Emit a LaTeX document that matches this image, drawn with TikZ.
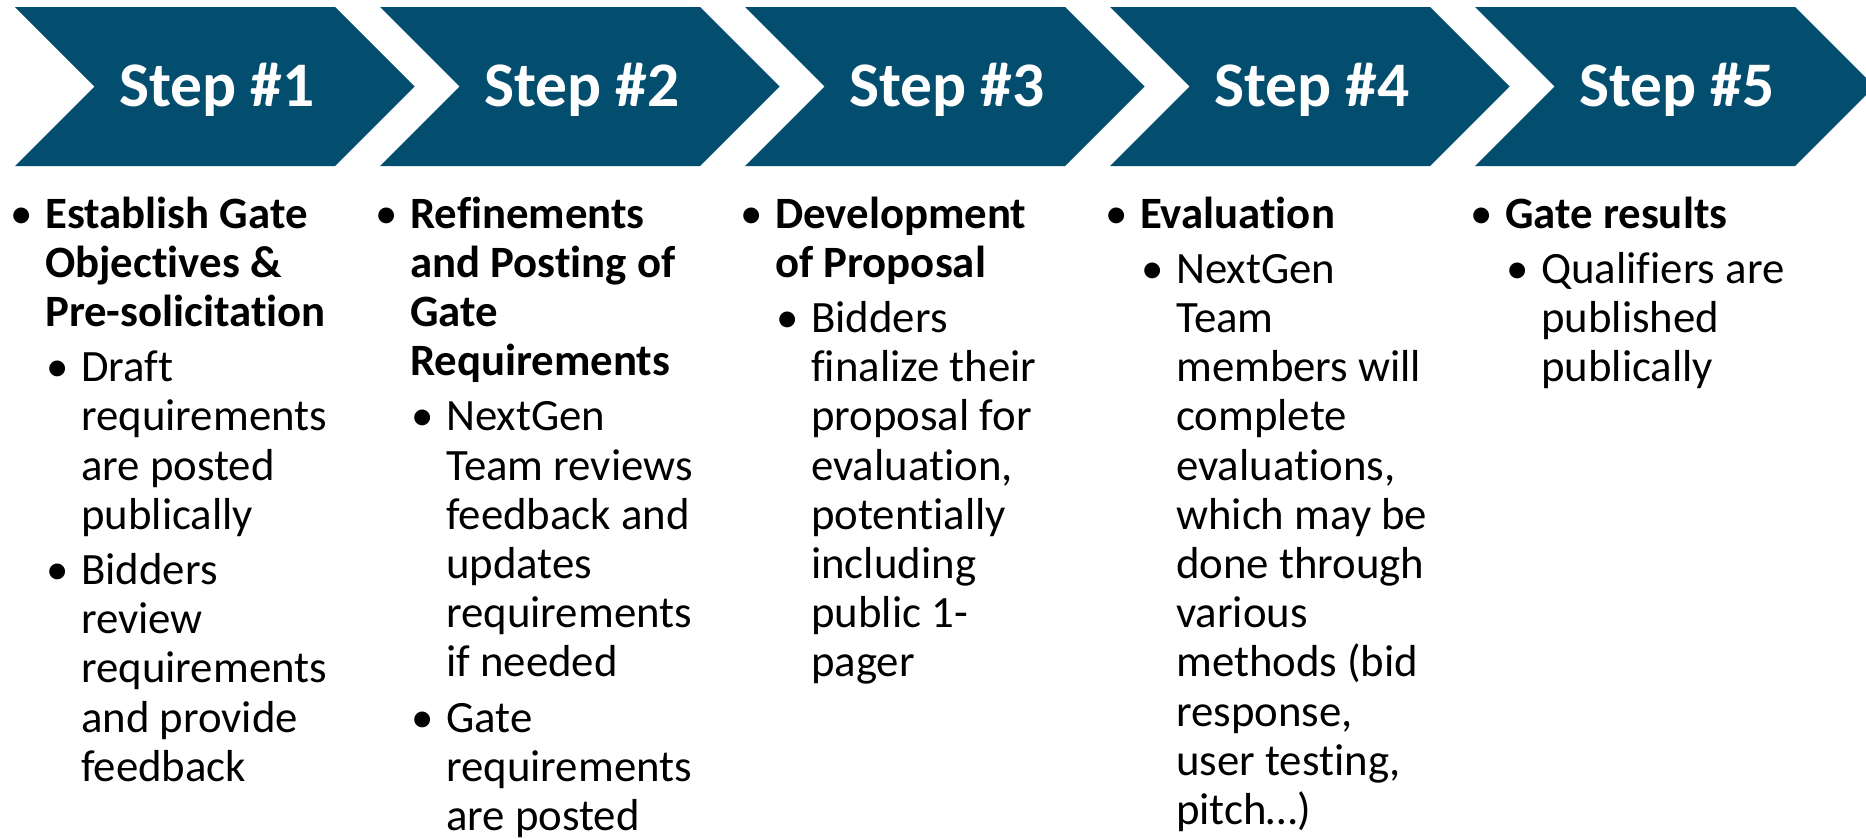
\documentclass[tikz,border=0pt]{standalone}
\usepackage{fontspec}
\setmainfont{Carlito}[RawFeature={-liga;-clig;-calt;-dlig}]
\usepackage{tikz}

\definecolor{stepblue}{RGB}{3,78,111}

\tikzset{
  head/.style={anchor=base, inner sep=0, text=white,
    font=\fontsize{63.5}{70}\selectfont\bfseries},
  lvlone/.style={anchor=base west, inner sep=0,
    font=\fontsize{44.8}{49.2}\selectfont\bfseries},
  lvltwo/.style={anchor=base west, inner sep=0,
    font=\fontsize{44.8}{49.2}\selectfont},
  bul/.style={anchor=base, inner sep=0, font=\fontsize{44.8}{49.2}\selectfont}
}

% bullet + paragraph: name, x, first baseline, style, text
\newcommand{\bpara}[5]{%
  \node[bul] (#1dot) at (#2-23, #3) {•};
  \node[#4] (#1) at (#2, #3) {\begin{tabular}[t]{@{}l@{}}#5\end{tabular}};}

\begin{document}
\begin{tikzpicture}[x=1pt, y=-1pt]
  \useasboundingbox (0, 0) rectangle (1866, 838);
  \clip (0, 0) rectangle (1866, 838);

  % chevrons
  \foreach \k in {0,...,4} {
    \pgfmathsetmacro{\L}{15+365*\k}
    \fill[stepblue] (\L, 7) -- (\L+320, 7) -- (\L+399.5, 86.5) -- (\L+320, 166)
      -- (\L, 166) -- (\L+79.5, 86.5) -- cycle;
  }
  \node[head] (step1) at (217, 106) {Step \#1};
  \node[head] (step2) at (582, 106) {Step \#2};
  \node[head] (step3) at (947, 106) {Step \#3};
  \node[head] (step4) at (1312, 106) {Step \#4};
  \node[head] (step5) at (1677, 106) {Step \#5};

  % step 1
  \bpara{objectives}{45}{228}{lvlone}{Establish Gate\\Objectives \&\\Pre-solicitation}
  \bpara{draft}{81}{381.6}{lvltwo}{Draft\\requirements\\are posted\\publically}
  \bpara{review}{81}{584.4}{lvltwo}{Bidders\\review\\requirements\\and provide\\feedback}

  % step 2
  \bpara{refine}{410}{228}{lvlone}{Refinements\\and Posting of\\Gate\\Requirements}
  \bpara{updates}{446}{430.8}{lvltwo}{NextGen\\Team reviews\\feedback and\\updates\\requirements\\if needed}
  \bpara{posted}{446}{732}{lvltwo}{Gate\\requirements\\are posted}

  % step 3
  \bpara{proposal}{775}{228}{lvlone}{Development\\of Proposal}
  \bpara{finalize}{811}{332.4}{lvltwo}{Bidders\\finalize their\\proposal for\\evaluation,\\potentially\\including\\public 1-\\pager}

  % step 4
  \bpara{evaluation}{1140}{228}{lvlone}{Evaluation}
  \bpara{methods}{1176}{283.2}{lvltwo}{NextGen\\Team\\members will\\complete\\evaluations,\\which may be\\done through\\various\\methods (bid\\response,\\user testing,\\pitch…)}

  % step 5
  \bpara{results}{1505}{228}{lvlone}{Gate results}
  \bpara{qualifiers}{1541}{283.2}{lvltwo}{Qualifiers are\\published\\publically}
\end{tikzpicture}
\end{document}
